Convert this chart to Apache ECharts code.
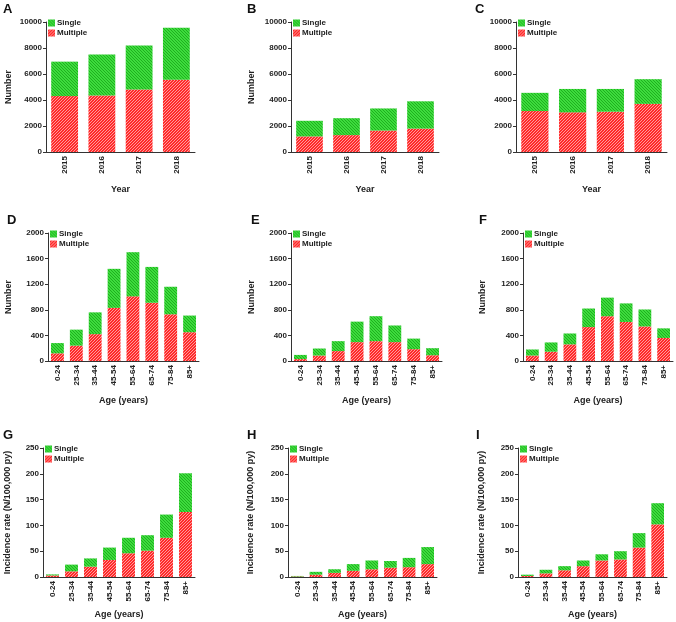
<!DOCTYPE html>
<html>
<head>
<meta charset="utf-8">
<script src="https://cdn.jsdelivr.net/npm/echarts@6/dist/echarts.min.js"></script>
<style>
html,body{margin:0;padding:0;background:#fff;}
#chart{width:676px;height:622px;}
</style>
</head>
<body>
<div id="chart"></div>
<script>
// ---- data ----
const years = ['2015', '2016', '2017', '2018'];
const ageGroups = ['0-24', '25-34', '35-44', '45-54', '55-64', '65-74', '75-84', '85+'];
const panelLetters = ['A', 'B', 'C', 'D', 'E', 'F', 'G', 'H', 'I'];

const multipleA = [4300, 4350, 4800, 5550];
const singleA   = [2650, 3150, 3400, 4000];
const multipleB = [1200, 1300, 1650, 1800];
const singleB   = [1200, 1300, 1700, 2100];
const multipleC = [3150, 3050, 3100, 3700];
const singleC   = [1400, 1800, 1750, 1900];

const multipleD = [120, 240, 420, 830, 1010, 910, 730, 450];
const singleD   = [160, 250, 340, 610, 690, 560, 430, 260];
const multipleE = [30, 85, 155, 295, 310, 295, 185, 90];
const singleE   = [65, 110, 155, 320, 390, 260, 165, 110];
const multipleF = [85, 145, 260, 530, 700, 610, 540, 360];
const singleF   = [95, 145, 170, 290, 290, 290, 265, 150];

const multipleG = [3, 11, 20, 33, 46, 51, 76, 126];
const singleG   = [2, 13, 16, 24, 30, 30, 45, 75];
const multipleH = [1, 4.5, 8, 12, 15, 18, 19, 25];
const singleH   = [1, 5.5, 7, 13, 17, 13, 18, 33];
const multipleI = [2, 7, 13, 21, 32, 34, 57, 102];
const singleI   = [2.5, 7, 8, 11, 12, 16, 28, 41];

const rowYMax = [10000, 2000, 250];
const rowYInterval = [2000, 400, 50];
const rowXName = ['Year', 'Age (years)', 'Age (years)'];
const rowYName = ['Number', 'Number', 'Incidence rate (N/100,000 py)'];

const panelMultiple = [multipleA, multipleB, multipleC, multipleD, multipleE, multipleF, multipleG, multipleH, multipleI];
const panelSingle = [singleA, singleB, singleC, singleD, singleE, singleF, singleG, singleH, singleI];

// ---- layout ----
const grids = [
  {left: 46, top: 22, width: 149, height: 130},
  {left: 291, top: 22, width: 148, height: 130},
  {left: 516, top: 22, width: 151, height: 130},
  {left: 48, top: 233, width: 151, height: 128},
  {left: 291, top: 233, width: 151, height: 128},
  {left: 523, top: 233, width: 150, height: 128},
  {left: 43, top: 448, width: 152, height: 129},
  {left: 288, top: 448, width: 149, height: 129},
  {left: 518, top: 448, width: 149, height: 129}
];
const yNameGaps = [33, 35, 0, 35, 35, 36, 31, 33, 32];
const xNameGaps = [33, 33, 33, 35, 35, 35, 33, 33, 33];
const letterPos = [[3, 3], [247, 3], [475, 3], [7, 214], [251, 214], [479, 214], [3, 429], [247, 429], [476, 429]];

function makePattern(base, stripe, dir) {
  const c = document.createElement('canvas');
  c.width = 3; c.height = 3;
  const ctx = c.getContext('2d');
  ctx.fillStyle = base; ctx.fillRect(0, 0, 3, 3);
  ctx.fillStyle = stripe;
  for (let x = 0; x < 3; x++) {
    const y = dir === '/' ? 2 - x : x;
    ctx.fillRect(x, y, 1, 1);
  }
  return {image: c, repeat: 'repeat'};
}
const redFill = makePattern('#ff2a2a', '#ff9c9c', '/');
const greenFill = makePattern('#3ddc3d', '#1faf1f', '\\');

const FONT = 'Liberation Sans, Arial, sans-serif';
const axisColor = '#333';

const option = {
  animation: false,
  backgroundColor: '#fff',
  title: [], grid: [], xAxis: [], yAxis: [], series: [], legend: []
};

for (let p = 0; p < 9; p++) {
  const row = Math.floor(p / 3);
  const g = grids[p];
  option.grid.push(Object.assign({containLabel: false}, g));
  option.title.push({
    text: panelLetters[p], left: letterPos[p][0], top: letterPos[p][1],
    textStyle: {fontFamily: FONT, fontWeight: 'bold', fontSize: 13, color: '#111'}, padding: 0
  });
  option.xAxis.push({
    type: 'category', gridIndex: p, data: row === 0 ? years : ageGroups,
    name: rowXName[row], nameLocation: 'middle', nameGap: xNameGaps[p],
    nameTextStyle: {fontFamily: FONT, fontWeight: 'bold', fontSize: 9, color: '#222'},
    axisLine: {show: true, lineStyle: {color: axisColor, width: 1}},
    axisTick: {show: false},
    axisLabel: {rotate: 90, fontFamily: FONT, fontWeight: 'bold', fontSize: 8, color: '#222', margin: 4, interval: 0}
  });
  option.yAxis.push({
    type: 'value', gridIndex: p, min: 0, max: rowYMax[row], interval: rowYInterval[row],
    name: p === 2 ? '' : rowYName[row], nameLocation: 'middle', nameGap: yNameGaps[p], nameRotate: 90,
    nameTextStyle: {fontFamily: FONT, fontWeight: 'bold', fontSize: 9, color: '#222'},
    axisLine: {show: true, lineStyle: {color: axisColor, width: 1}},
    axisTick: {show: true, length: 3, lineStyle: {color: axisColor}},
    splitLine: {show: false},
    axisLabel: {fontFamily: FONT, fontWeight: 'bold', fontSize: 8, color: '#222', margin: 4,
      formatter: function (v) { return String(v); }}
  });
  option.series.push({
    type: 'bar', name: 'Multiple', xAxisIndex: p, yAxisIndex: p, stack: 's' + p,
    data: panelMultiple[p], barWidth: row === 0 ? '72%' : '68%',
    itemStyle: {color: redFill}
  });
  option.series.push({
    type: 'bar', name: 'Single', xAxisIndex: p, yAxisIndex: p, stack: 's' + p,
    data: panelSingle[p], barWidth: row === 0 ? '72%' : '68%',
    itemStyle: {color: greenFill}
  });
  option.legend.push({
    data: ['Single', 'Multiple'], orient: 'vertical',
    left: g.left + 2, top: g.top - 3, padding: 0, itemGap: 2,
    itemWidth: 7, itemHeight: 7, icon: 'rect', selectedMode: false,
    textStyle: {fontFamily: FONT, fontWeight: 'bold', fontSize: 8, color: '#222', padding: [0, 0, 0, -3]}
  });
}

const chart = echarts.init(document.getElementById('chart'), null, {renderer: 'canvas'});
chart.setOption(option);
</script>
</body>
</html>
